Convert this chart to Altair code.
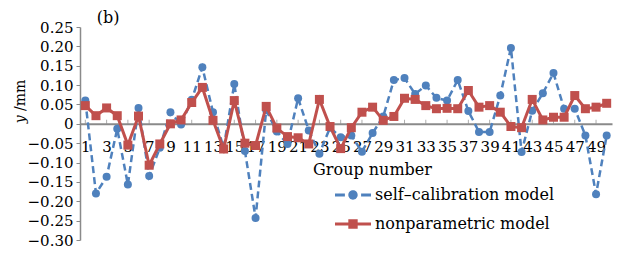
import altair as alt
import pandas as pd

# ---------------- data ----------------
groups = list(range(1, 51))
self_calibration = [
    0.060, -0.180, -0.137, -0.013, -0.157, 0.041, -0.135, -0.062, 0.030, -0.002,
    0.062, 0.146, 0.030, -0.062, 0.103, -0.070, -0.243, 0.035, -0.020, -0.052,
    0.066, -0.017, -0.077, -0.010, -0.035, -0.030, -0.072, -0.024, 0.019, 0.113,
    0.118, 0.077, 0.099, 0.067, 0.060, 0.113, 0.033, -0.021, -0.021, 0.073,
    0.196, -0.073, 0.034, 0.079, 0.131, 0.039, 0.039, -0.030, -0.182, -0.030,
]
nonparametric = [
    0.047, 0.021, 0.041, 0.021, -0.055, 0.020, -0.107, -0.052, 0.000, 0.010,
    0.055, 0.094, 0.009, -0.065, 0.060, -0.050, -0.056, 0.045, -0.011, -0.033,
    -0.036, -0.052, 0.063, -0.007, -0.064, -0.010, 0.030, 0.043, 0.009, 0.019,
    0.066, 0.063, 0.047, 0.039, 0.040, 0.039, 0.086, 0.043, 0.047, 0.030,
    -0.007, -0.010, 0.063, 0.010, 0.017, 0.017, 0.073, 0.039, 0.043, 0.053,
]
series_names = ["self\u2013calibration model", "nonparametric model"]
series_colors = ["#4F81BD", "#C0504D"]
x_tick_values = list(range(1, 50, 2))
y_tick_values = [-0.30, -0.25, -0.20, -0.15, -0.10, -0.05, 0.0, 0.05, 0.10, 0.15, 0.20, 0.25]
panel_label = ["(b)"]

df = pd.DataFrame({
    "group": groups * 2,
    "value": self_calibration + nonparametric,
    "series": [series_names[0]] * len(groups) + [series_names[1]] * len(groups),
})
ticks_df = pd.DataFrame({"group": x_tick_values, "value": [0.0] * len(x_tick_values)})
label_df = pd.DataFrame({"label": panel_label})

# ---------------- style ----------------
FONT = "DejaVu Serif"
W, H = 532, 213
Y_MIN, Y_MAX = -0.30, 0.25
zero_px = H * Y_MAX / (Y_MAX - Y_MIN)

x_scale = alt.Scale(domain=[0.5, 50.5], nice=False, zero=False)
y_scale = alt.Scale(domain=[Y_MIN, Y_MAX], nice=False, zero=False)

x_axis = alt.Axis(
    values=x_tick_values, title="Group number", offset=-(H - zero_px),
    domainColor="#8a8a8a", domainWidth=2, ticks=True, tickSize=0,
    labelFont=FONT, labelFontSize=15, labelColor="black", labelPadding=16,
    labelOverlap=False, labelFlush=False, labelBound=False, grid=False,
    titleFont=FONT, titleFontSize=16, titleFontWeight="normal", titleColor="black",
    titlePadding=7, titleX=292,
)
y_axis = alt.Axis(
    values=y_tick_values,
    labelExpr="abs(datum.value) < 1e-9 ? '0' : format(datum.value, '.2f')",
    domainColor="#8a8a8a", domainWidth=1.5, tickColor="#8a8a8a", tickSize=4,
    labelFont=FONT, labelFontSize=15, labelColor="black", labelPadding=3, grid=False,
    labelOverlap=False, labelFlush=False, labelBound=False,
    title="\U0001D466 /mm", titleFont=FONT, titleFontSize=14, titleFontWeight="normal",
    titleColor="black", titleX=-60, titleY=74, titleAngle=270, titleBaseline="middle",
    titleAlign="center",
)

blue_symbol = (
    "M-1,-0.09 L-0.45,-0.09 L-0.45,0.09 L-1,0.09 Z "
    "M-0.26,0 A0.26,0.26 0 1,1 0.26,0 A0.26,0.26 0 1,1 -0.26,0 Z "
    "M0.45,-0.09 L1,-0.09 L1,0.09 L0.45,0.09 Z"
)
red_symbol = (
    "M-1,-0.09 L1,-0.09 L1,0.09 L-1,0.09 Z "
    "M-0.26,-0.26 L0.26,-0.26 L0.26,0.26 L-0.26,0.26 Z"
)

legend = alt.Legend(
    title=None, orient="none", legendX=255, legendY=150, padding=0,
    symbolSize=1296, symbolOpacity=1, symbolStrokeWidth=0,
    labelFont=FONT, labelFontSize=16, labelColor="black", labelLimit=400,
    labelOffset=4, rowPadding=3,
)

X = alt.X("group:Q", scale=x_scale, axis=x_axis)
Y = alt.Y("value:Q", scale=y_scale, axis=y_axis)

base = alt.Chart(df)
sel_blue = alt.datum.series == series_names[0]
sel_red = alt.datum.series == series_names[1]

axes_layer = alt.Chart(ticks_df).mark_tick(
    orient="vertical", size=4, thickness=1, color="#8a8a8a", yOffset=-2
).encode(x=X, y=Y)

blue_line = base.transform_filter(sel_blue).mark_line(
    color=series_colors[0], strokeWidth=2.5, strokeDash=[7, 4]
).encode(x=X, y=Y)
blue_pts = base.transform_filter(sel_blue).mark_circle(
    color=series_colors[0], size=64, opacity=1
).encode(x=X, y=Y)
red_line = base.transform_filter(sel_red).mark_line(
    color=series_colors[1], strokeWidth=3
).encode(x=X, y=Y)
red_pts = base.transform_filter(sel_red).mark_square(
    color=series_colors[1], size=81, opacity=1
).encode(x=X, y=Y)

legend_layer = base.mark_point(filled=True, opacity=0, size=1296).encode(
    x=X, y=Y,
    color=alt.Color("series:N", scale=alt.Scale(domain=series_names, range=series_colors), legend=legend),
    shape=alt.Shape("series:N", scale=alt.Scale(domain=series_names, range=[blue_symbol, red_symbol]), legend=legend),
)

panel_text = alt.Chart(label_df).mark_text(
    font=FONT, fontSize=16, color="black", align="center", baseline="middle"
).encode(text="label:N", x=alt.value(28), y=alt.value(-9))

chart = alt.layer(
    axes_layer, blue_line, blue_pts, red_line, red_pts, legend_layer, panel_text
).properties(
    width=W, height=H,
    autosize=alt.AutoSizeParams(type="none"),
    padding={"left": 72, "top": 19, "right": 2, "bottom": 17},
    background="white",
).configure_view(stroke=None).configure_axis(labelOverlap=False)

chart.save("out.html", embed_options={"renderer": "svg", "actions": False})
